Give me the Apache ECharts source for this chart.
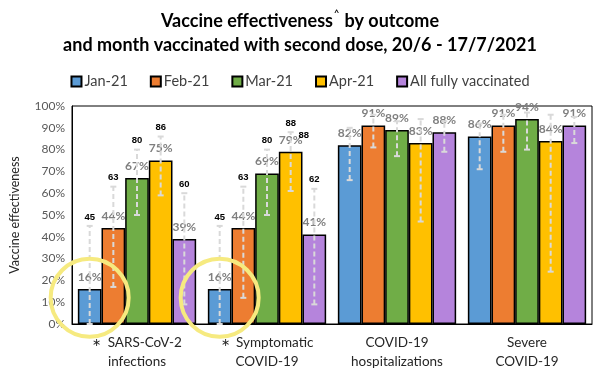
<!DOCTYPE html>
<html>
<head>
<meta charset="utf-8">
<script src="https://cdn.jsdelivr.net/npm/echarts@6/dist/echarts.min.js"></script>
<style>
  html, body { margin: 0; padding: 0; background: #fff; }
  #chart { width: 600px; height: 376px; }
</style>
</head>
<body>
<div id="chart"></div>
<script>
// outcomes on the x axis; first two carry an asterisk in front
const outcomes = ['SARS-CoV-2\ninfections', 'Symptomatic\nCOVID-19', 'COVID-19\nhospitalizations', 'Severe\nCOVID-19']
const starred = [true, true, false, false]

const groups = ['Jan-21', 'Feb-21', 'Mar-21', 'Apr-21', 'All fully vaccinated']
const colors = ['#5b9bd5', '#ed7d31', '#70ad47', '#ffc000', '#b584dc']

// vaccine effectiveness (%) per group, one value per outcome
const veJan = [16, 16, 82, 86]
const veFeb = [44, 44, 91, 91]
const veMar = [67, 69, 89, 94]
const veApr = [75, 79, 83, 84]
const veAll = [39, 41, 88, 91]

// 95% CI lower / upper bounds
const lowJan = [0, 0, 66, 71]
const lowFeb = [17, 12, 81, 79]
const lowMar = [50, 50, 77, 80]
const lowApr = [59, 61, 47, 24]
const lowAll = [9, 9, 79, 83]

const highJan = [45, 45, 90, 92]
const highFeb = [63, 63, 96, 96]
const highMar = [80, 80, 93, 97]
const highApr = [86, 88, 94, 96]
const highAll = [60, 62, 93, 95]

// outcomes whose upper bound is printed
const upperLabelled = [true, true, false, false]
// [outcome, group] whose upper bound is printed a second time beside the bar label
const repeatedUpper = [[1, 3]]

// highlighted Jan-21 bars: [outcome index, value at circle centre]
const circled = [[0, 12], [1, 12]]

const veValues = [veJan, veFeb, veMar, veApr, veAll]
const lowValues = [lowJan, lowFeb, lowMar, lowApr, lowAll]
const highValues = [highJan, highFeb, highMar, highApr, highAll]

const FONT = 'Lato'
const CATEGORY_GAP = 0.09

const chart = echarts.init(document.getElementById('chart'), null, { renderer: 'canvas' })

function barCenterX(api, cat, idx) {
  const band = api.size([1, 0])[0]
  const inner = band * (1 - CATEGORY_GAP)
  const w = inner / groups.length
  const c = api.coord([cat, 0])[0]
  return c - inner / 2 + w * (idx + 0.5)
}

const errorData = []
groups.forEach((g, si) => {
  outcomes.forEach((o, ci) => {
    const repeated = repeatedUpper.some(([c, s]) => c === ci && s === si) ? 1 : 0
    errorData.push([ci, si, lowValues[si][ci], highValues[si][ci], veValues[si][ci], repeated])
  })
})

const barSeries = groups.map((name, si) => ({
  name,
  type: 'bar',
  data: veValues[si],
  barGap: '0%',
  barCategoryGap: CATEGORY_GAP * 100 + '%',
  itemStyle: { color: colors[si], borderColor: '#000', borderWidth: 1.5 },
  label: {
    show: true,
    position: 'top',
    distance: 6,
    formatter: '{c}%',
    color: '#7f7f7f',
    fontFamily: FONT,
    fontWeight: 'bold',
    fontSize: 12,
  },
  z: 2,
}))

const option = {
  animation: false,
  backgroundColor: '#fff',
  title: {
    text: '{t|Vaccine effectiveness}{s|^}{t| by outcome}\n{t|and month vaccinated with second dose, 20/6 - 17/7/2021}',
    left: 'center',
    top: 4,
    textStyle: {
      rich: {
        t: { fontFamily: FONT, fontWeight: 'bold', fontSize: 18, color: '#000', lineHeight: 24 },
        s: { fontFamily: FONT, fontSize: 9, color: '#000', verticalAlign: 'top', lineHeight: 24, padding: [0, 1, 8, 1] },
      },
    },
  },
  legend: {
    top: 69,
    left: 'center',
    data: groups,
    icon: 'rect',
    itemWidth: 10,
    itemHeight: 10,
    itemGap: 22,
    textStyle: { fontFamily: FONT, fontSize: 14.5, color: '#404040', padding: [0, 0, 0, -2] },
  },
  grid: {
    left: 69,
    right: 8,
    top: 106,
    bottom: 52,
    show: true,
    borderColor: '#000',
    borderWidth: 1,
  },
  xAxis: {
    type: 'category',
    data: outcomes,
    axisLine: { lineStyle: { color: '#000', width: 1 } },
    axisTick: { show: false },
    axisLabel: {
      margin: 9,
      interval: 0,
      fontFamily: FONT,
      fontSize: 13.5,
      color: '#262626',
      lineHeight: 19,
      formatter: (value, idx) => {
        const lines = value.split('\n')
        const first = starred[idx] ? '{star|∗} ' + lines[0] : lines[0]
        return first + '\n' + lines[1]
      },
      rich: {
        star: { fontFamily: FONT, fontSize: 11, color: '#262626', lineHeight: 19, padding: [0, 3, 0, 0] },
      },
    },
  },
  yAxis: {
    type: 'value',
    min: 0,
    max: 100,
    interval: 10,
    name: 'Vaccine effectiveness',
    nameLocation: 'middle',
    nameGap: 51,
    nameTextStyle: { fontFamily: FONT, fontSize: 12.5, color: '#262626' },
    axisLine: { show: true, lineStyle: { color: '#000', width: 1 } },
    axisTick: { show: false },
    splitLine: { show: false },
    axisLabel: {
      formatter: '{value}%',
      margin: 7,
      fontFamily: FONT,
      fontSize: 12,
      color: '#595959',
    },
  },
  series: [
    ...barSeries,
    {
      type: 'custom',
      name: 'ci',
      data: errorData,
      encode: { x: 0, y: [2, 3] },
      clip: false,
      z: 3,
      silent: true,
      renderItem: (params, api) => {
        const cat = api.value(0)
        const si = api.value(1)
        const x = barCenterX(api, cat, si)
        const yLow = api.coord([cat, api.value(2)])[1]
        const yHigh = api.coord([cat, api.value(3)])[1]
        const stroke = '#d9d9d9'
        const children = [
          {
            type: 'line',
            shape: { x1: x, y1: yLow, x2: x, y2: yHigh },
            style: { stroke, lineWidth: 2, lineDash: [5, 3] },
          },
          {
            type: 'line',
            shape: { x1: x - 3, y1: yHigh, x2: x + 3, y2: yHigh },
            style: { stroke, lineWidth: 2 },
          },
          {
            type: 'line',
            shape: { x1: x - 3, y1: yLow, x2: x + 3, y2: yLow },
            style: { stroke, lineWidth: 2 },
          },
        ]
        const upperStyle = {
          text: String(api.value(3)),
          fill: '#000',
          fontFamily: 'Liberation Sans',
          fontWeight: 'bold',
          fontSize: 9.5,
          align: 'center',
          verticalAlign: 'middle',
        }
        if (upperLabelled[cat]) {
          children.push({ type: 'text', x, y: yHigh - 9, style: upperStyle })
        }
        if (api.value(5)) {
          const yTop = api.coord([cat, api.value(4)])[1]
          children.push({ type: 'text', x: x + 13, y: yTop - 16, style: upperStyle })
        }
        return { type: 'group', children }
      },
    },
    {
      type: 'custom',
      name: 'highlight',
      data: circled,
      encode: { x: 0, y: 1 },
      clip: false,
      z: 4,
      silent: true,
      renderItem: (params, api) => {
        const cat = api.value(0)
        const cx = barCenterX(api, cat, 0)
        const cy = api.coord([cat, api.value(1)])[1]
        return {
          type: 'circle',
          shape: { cx, cy, r: 39 },
          style: { fill: 'none', stroke: '#f6ea80', lineWidth: 4 },
        }
      },
    },
  ],
}

chart.setOption(option)
</script>
</body>
</html>
